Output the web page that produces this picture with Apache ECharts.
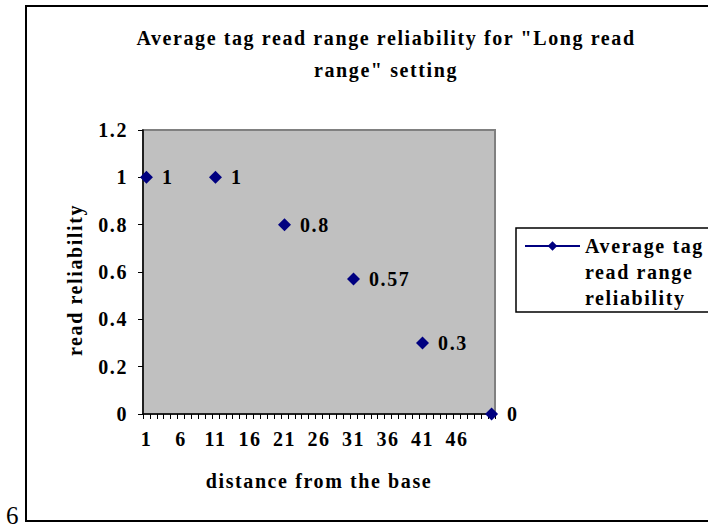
<!DOCTYPE html>
<html>
<head>
<meta charset="utf-8">
<script src="https://cdn.jsdelivr.net/npm/echarts@6/dist/echarts.min.js"></script>
<style>html,body{margin:0;padding:0;background:#fff}#c{width:708px;height:531px}#c text{letter-spacing:1.6px}</style>
</head>
<body>
<div id="c"></div>
<script>
const titleText = 'Average tag read range reliability for "Long read\nrange" setting';
const seriesName = 'Average tag read range reliability';
const legendLines = ['Average tag', 'read range', 'reliability'];
const xAxisTitle = 'distance from the base';
const yAxisTitle = 'read reliability';
const pageNumber = '6';
const categories = [1,2,3,4,5,6,7,8,9,10,11,12,13,14,15,16,17,18,19,20,21,22,23,24,25,26,27,28,29,30,31,32,33,34,35,36,37,38,39,40,41,42,43,44,45,46,47,48,49,50,51];
const xLabelShown = [1, 6, 11, 16, 21, 26, 31, 36, 41, 46];
const distances = [1, 11, 21, 31, 41, 51];
const reliability = [1, 1, 0.8, 0.57, 0.3, 0];
const yTicks = [0, 0.2, 0.4, 0.6, 0.8, 1, 1.2];

const seriesData = categories.map(c => {
  const i = distances.indexOf(c);
  return i >= 0 ? reliability[i] : null;
});

const FONT = 'Liberation Serif, Times New Roman, serif';
const FS = 20;
const chart = echarts.init(document.getElementById('c'), null, {renderer: 'svg'});
chart.setOption({
  animation: false,
  backgroundColor: '#ffffff',
  title: [{
    text: titleText,
    left: 381, top: 17, textAlign: 'center',
    textStyle: {fontFamily: FONT, fontWeight: 'bold', fontSize: FS, lineHeight: 32, color: '#000'}
  }, {
    text: pageNumber,
    left: 6, top: 503, padding: 0,
    textStyle: {fontFamily: FONT, fontWeight: 'normal', fontSize: 25, color: '#000'}
  }],
  legend: {
    left: 524, top: 181,
    padding: 0,
    itemWidth: 55, itemHeight: 12,
    data: [seriesName],
    formatter: () => '\n\n' + legendLines.join('\n'),
    textStyle: {fontFamily: FONT, fontWeight: 'bold', fontSize: FS, lineHeight: 26, color: '#000'}
  },
  grid: {
    left: 143, top: 130, width: 352, height: 284,
    show: true, backgroundColor: '#C0C0C0', borderColor: '#808080', borderWidth: 2
  },
  xAxis: {
    type: 'category',
    data: categories,
    boundaryGap: true,
    name: xAxisTitle, nameLocation: 'middle', nameGap: 57,
    nameTextStyle: {fontFamily: FONT, fontWeight: 'bold', fontSize: FS, color: '#000'},
    axisLine: {lineStyle: {color: '#000', width: 1.5}},
    axisTick: {show: true, interval: 0, length: 5, lineStyle: {color: '#000', width: 1}},
    axisLabel: {
      interval: (idx, val) => xLabelShown.indexOf(Number(val)) >= 0,
      margin: 15, fontFamily: FONT, fontWeight: 'bold', fontSize: FS, color: '#000'
    },
    splitLine: {show: false}
  },
  yAxis: {
    type: 'value',
    min: yTicks[0], max: yTicks[yTicks.length - 1], interval: 0.2,
    name: yAxisTitle, nameLocation: 'middle', nameGap: 58, nameRotate: 90,
    nameTextStyle: {fontFamily: FONT, fontWeight: 'bold', fontSize: FS, color: '#000', padding: [0, 16, 0, 0]},
    axisLine: {show: true, lineStyle: {color: '#000', width: 1.5}},
    axisTick: {show: true, length: 5, lineStyle: {color: '#000', width: 1}},
    axisLabel: {margin: 15, fontFamily: FONT, fontWeight: 'bold', fontSize: FS, color: '#000'},
    splitLine: {show: false}
  },
  series: [{
    name: seriesName,
    type: 'line',
    data: seriesData,
    connectNulls: false,
    showAllSymbol: true,
    symbol: 'diamond',
    symbolSize: 13,
    itemStyle: {color: '#000080'},
    lineStyle: {color: '#000080', width: 1.5},
    label: {show: true, position: 'right', distance: 9, fontFamily: FONT, fontWeight: 'bold', fontSize: FS, color: '#000'}
  }],
  graphic: [
    {type: 'rect', shape: {x: 26, y: 6, width: 700, height: 515}, style: {fill: 'none', stroke: '#000', lineWidth: 2}, z: 10},
    {type: 'rect', shape: {x: 516, y: 228, width: 200, height: 84}, style: {fill: 'none', stroke: '#000', lineWidth: 1.5}, z: 10}
  ]
});
</script>
</body>
</html>
